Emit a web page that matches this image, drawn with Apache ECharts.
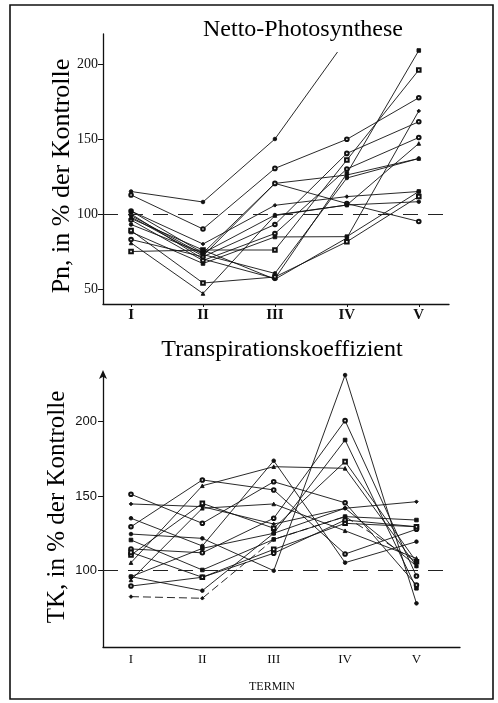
<!DOCTYPE html>
<html><head><meta charset="utf-8">
<script src="https://cdn.jsdelivr.net/npm/echarts@6/dist/echarts.min.js"></script>
<style>html,body{margin:0;padding:0;background:#fff}#c{width:498px;height:703px}</style>
</head><body><div id="c"></div>
<script>
// ---------- data ----------
const termine = ['I', 'II', 'III', 'IV', 'V'];
const termPos = [1, 2, 3, 4, 5];
const pnTicks = [50, 100, 150, 200];
const tkTicks = [100, 150, 200];
const reference = 100;
const tkRefEnd = 5.4;   // dashed 100 % line in the TK panel stops short of the axis end

// Netto-Photosynthese (Pn, % der Kontrolle) per Termin I..V
const pn01Pos = [1, 2, 3, 3.87];          // this curve leaves the plot after III
const pn01 = [115, 108, 150, 208];
const pn02 = [112.7, 90, 130.4, 149.8, 177.5];
const pn03 = [100, 70, 57, 127, 209];
const pn04 = [75, 76, 76, 136, 196];
const pn05 = [98, 72, 120.4, 126, 137];
const pn06 = [102, 74, 120.4, 107, 95];
const pn07 = [102, 80, 105.8, 111.6, 115];
const pn08 = [93, 74, 99.3, 106, 108.2];
const pn09 = [83, 71.5, 93, 140.4, 161.5];
const pn10 = [88, 67, 84.7, 84.9, 115];
const pn11 = [89, 54, 58, 81.5, 111.7];
const pn12 = [80.7, 47, 99, 106, 147];
const pn13 = [96, 69, 87, 130, 151];
const pn14 = [97, 76, 56.5, 84, 168.7];
const pn15 = [99, 73, 60.4, 124, 137];

// Transpirationskoeffizient (TK, % der Kontrolle) per Termin I..V
const tk01 = [124.6, 121.7, 100, 231.3, 78.1];
const tk02 = [114.6, 112, 135.2, 200.7, 96.4];
const tk03 = [96, 115, 125.1, 187.7, 88.2];
const tk04 = [110.5, 145.2, 128.5, 173.2, 106];
const tk05 = [105.4, 157, 169.8, 168.7, 103.2];
const tk06 = [151.3, 131.8, 159.7, 145.6, 90.4];
const tk07 = [144.8, 143, 131.3, 141.9, 146.3];
const tk08 = [135.2, 116.6, 173.8, 105.4, 119.5];
const tk09 = [129.5, 160.9, 154.2, 111.2, 127.8];
const tk10 = [120.6, 100.5, 121, 136.3, 134];
const tk11 = [112.3, 95.6, 114.3, 131.8, 129.5];
const tk12 = [93.8, 141.9, 144.8, 126.8, 108.3];
const tk13 = [89.7, 95.6, 111.7, 134, 129.5];
const tk14 = [82.6, 81.5, 121, 136.3, 106];
const tk15 = [96, 86.6, 125.1, 141.9, 103.2];

// ---------- chart ----------
const syms = ['circle','emptyCircle','rect','emptyRect','triangle','emptyCircle','diamond'];
const refStyle = { color: '#222', type: [15, 10], width: 1.2 };
function mk(vals, pos, gi, k, extra) {
  extra = extra || {};
  const data = vals.map((v, i) => {
    const d = { value: [pos[i], v] };
    if (extra.noEndSymbol && i === vals.length - 1) d.symbol = 'none';
    return d;
  });
  const s = {
    type: 'line', xAxisIndex: gi, yAxisIndex: gi, data: data,
    symbol: syms[k % syms.length], symbolSize: 3.6, silent: true, animation: false,
    lineStyle: { color: '#111', width: 0.9, type: extra.dash || 'solid' },
    itemStyle: { color: '#111', borderColor: '#111', borderWidth: 0.9 },
    z: 3
  };
  if (extra.mark) {
    s.markLine = { silent: true, symbol: ['none', 'none'], label: { show: false },
      lineStyle: refStyle, data: [extra.mark] };
  }
  return s;
}

const pnList = [pn02, pn03, pn04, pn05, pn06, pn07, pn08, pn09, pn10, pn11, pn12, pn13, pn14, pn15];
const tkList = [tk01, tk02, tk03, tk04, tk05, tk06, tk07, tk08, tk09, tk10, tk11, tk12, tk13, tk14, tk15];
const series = [];
series.push(mk(pn01, pn01Pos, 0, 0, { mark: { yAxis: reference }, noEndSymbol: true }));
pnList.forEach((v, i) => series.push(mk(v, termPos, 0, i + 1)));
tkList.forEach((v, i) => series.push(mk(v, termPos, 1, i,
  i === 0 ? { mark: [{ coord: [0.608, reference] }, { coord: [tkRefEnd, reference] }] }
          : (i === 13 ? { dash: [8, 4] } : {}))));

const serif = '"Liberation Serif", "DejaVu Serif", serif';
const sans = '"Liberation Sans", "DejaVu Sans", sans-serif';
const roman = v => termine[termPos.indexOf(Math.round(v))] || '';

const option = {
  backgroundColor: '#fff',
  animation: false,
  grid: [
    { left: 103, top: 34, width: 346, height: 270, containLabel: false, outerBoundsMode: 'none' },
    { left: 103, top: 374, width: 357, height: 273, containLabel: false, outerBoundsMode: 'none' }
  ],
  xAxis: [
    { gridIndex: 0, type: 'value', min: 0.61, max: 5.42, splitLine: { show: false },
      axisLine: { lineStyle: { color: '#111', width: 1.3 } },
      axisTick: { show: true, inside: false, length: 3, customValues: termPos, lineStyle: { color: '#111' } },
      axisLabel: { customValues: termPos, formatter: roman, color: '#111', margin: 4,
        fontFamily: serif, fontWeight: 'bold', fontSize: 15 } },
    { gridIndex: 1, type: 'value', min: 0.608, max: 5.61, splitLine: { show: false },
      axisLine: { lineStyle: { color: '#111', width: 1.3 } },
      axisTick: { show: false, customValues: termPos },
      axisLabel: { customValues: termPos, formatter: roman, color: '#111', margin: 6,
        fontFamily: serif, fontSize: 13 } }
  ],
  yAxis: [
    { gridIndex: 0, type: 'value', min: 40, max: 220, splitLine: { show: false },
      axisLine: { show: true, lineStyle: { color: '#111', width: 1.3 } },
      axisTick: { show: true, inside: false, length: 5, customValues: pnTicks, lineStyle: { color: '#111' } },
      axisLabel: { customValues: pnTicks, color: '#111', margin: 5, fontFamily: serif, fontSize: 14 } },
    { gridIndex: 1, type: 'value', min: 48.8, max: 232, splitLine: { show: false },
      axisLine: { show: true, symbol: ['none', 'arrow'], symbolSize: [6, 9], symbolOffset: [0, 4],
        lineStyle: { color: '#111', width: 1.3 } },
      axisTick: { show: true, inside: false, length: 5, customValues: tkTicks, lineStyle: { color: '#111' } },
      axisLabel: { customValues: tkTicks, color: '#111', margin: 6, fontFamily: sans, fontSize: 13 } }
  ],
  graphic: [
    { type: 'rect', shape: { x: 10, y: 5, width: 483, height: 694 }, silent: true,
      style: { fill: 'none', stroke: '#111', lineWidth: 1.6 } },
    { type: 'text', x: 303, y: 30, silent: true,
      style: { text: 'Netto-Photosynthese', font: '24px ' + serif, fill: '#000',
        textAlign: 'center', textVerticalAlign: 'middle', align: 'center', verticalAlign: 'middle' } },
    { type: 'text', x: 282, y: 350, silent: true,
      style: { text: 'Transpirationskoeffizient', font: '24px ' + serif, fill: '#000',
        textAlign: 'center', textVerticalAlign: 'middle', align: 'center', verticalAlign: 'middle' } },
    { type: 'text', x: 62, y: 176, rotation: Math.PI / 2, silent: true,
      style: { text: 'Pn, in % der Kontrolle', font: '26px ' + serif, fill: '#000',
        textAlign: 'center', textVerticalAlign: 'middle', align: 'center', verticalAlign: 'middle' } },
    { type: 'text', x: 57, y: 507, rotation: Math.PI / 2, silent: true,
      style: { text: 'TK, in % der Kontrolle', font: '25px ' + serif, fill: '#000',
        textAlign: 'center', textVerticalAlign: 'middle', align: 'center', verticalAlign: 'middle' } },
    { type: 'text', x: 272, y: 687, silent: true,
      style: { text: 'TERMIN', font: '12px ' + serif, fill: '#111',
        textAlign: 'center', textVerticalAlign: 'middle', align: 'center', verticalAlign: 'middle' } }
  ],
  series: series
};
const chart = echarts.init(document.getElementById('c'), null, { renderer: 'canvas' });
chart.setOption(option);
</script></body></html>
